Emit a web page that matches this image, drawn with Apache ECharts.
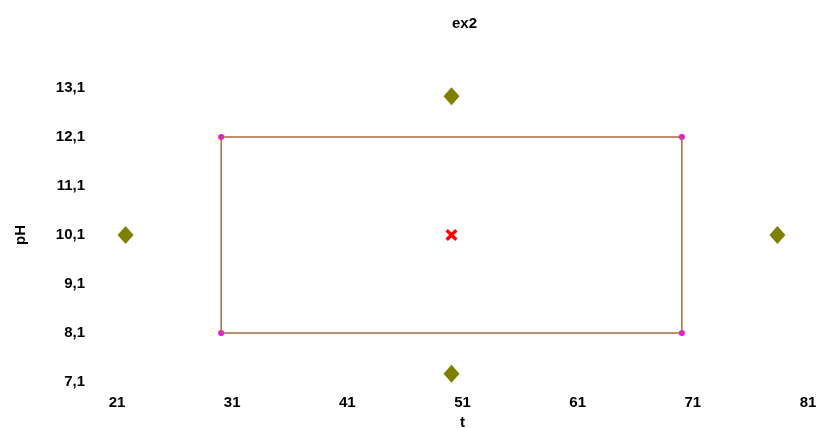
<!DOCTYPE html>
<html>
<head>
<meta charset="utf-8">
<script src="https://cdn.jsdelivr.net/npm/echarts@6/dist/echarts.min.js"></script>
<style>html,body{margin:0;padding:0;background:#fff}#c{width:821px;height:428px}</style>
</head>
<body>
<div id="c"></div>
<script>
const titleText = 'ex2';
const xName = 't';
const yName = 'pH';
const xTickLabels = [21, 31, 41, 51, 61, 71, 81];
const yTickLabels = [7.1, 8.1, 9.1, 10.1, 11.1, 12.1, 13.1];
// factorial (cube) points, traced as a closed rectangle
const cubeT = [31, 31, 71, 71, 31];
const cubePH = [8.1, 12.1, 12.1, 8.1, 8.1];
// axial (star) points
const starT = [22.7, 51, 79.3, 51];
const starPH = [10.1, 12.93, 10.1, 7.27];
// center point
const centerT = [51];
const centerPH = [10.1];

const zip = (a, b) => a.map((v, i) => [v, b[i]]);
const fmt = v => String(v).replace('.', ',');
const font = 'Liberation Sans, Arial, sans-serif';

const chart = echarts.init(document.getElementById('c'), null, {renderer: 'canvas'});
chart.setOption({
  animation: false,
  title: {
    text: titleText, left: 447, top: 11,
    textStyle: {fontFamily: font, fontWeight: 'bold', fontSize: 15, color: '#000'}
  },
  grid: {left: 106, right: 24, top: 88, bottom: 46, outerBoundsMode: 'none', containLabel: false},
  xAxis: {
    type: 'value', min: xTickLabels[0], max: xTickLabels[xTickLabels.length - 1], interval: 1,
    name: xName, nameLocation: 'middle', nameGap: 33,
    nameTextStyle: {fontFamily: font, fontWeight: 'bold', fontSize: 15, color: '#000', padding: [0, 0, 0, 22]},
    axisLine: {show: false}, axisTick: {show: false}, splitLine: {show: false},
    axisLabel: {
      fontFamily: font, fontWeight: 'bold', fontSize: 15, color: '#000', margin: 13,
      padding: [0, 0, 0, 22],
      formatter: v => xTickLabels.includes(Math.round(v)) ? fmt(Math.round(v)) : ''
    }
  },
  yAxis: {
    type: 'value', min: yTickLabels[0], max: yTickLabels[yTickLabels.length - 1], interval: 0.1,
    name: yName, nameLocation: 'middle', nameGap: 78,
    nameTextStyle: {fontFamily: font, fontWeight: 'bold', fontSize: 15, color: '#000'},
    axisLine: {show: false}, axisTick: {show: false}, splitLine: {show: false},
    axisLabel: {
      fontFamily: font, fontWeight: 'bold', fontSize: 15, color: '#000', margin: 21,
      padding: [0, 0, 6, 0],
      formatter: v => {
        const r = Math.round(v * 10) / 10;
        return yTickLabels.some(t => Math.abs(t - r) < 1e-6) ? fmt(r) : '';
      }
    }
  },
  series: [
    {
      type: 'line', data: zip(cubeT, cubePH), showSymbol: false, silent: true,
      lineStyle: {color: '#a8693f', width: 1.5}
    },
    {
      type: 'scatter', data: zip(cubeT.slice(0, 4), cubePH.slice(0, 4)),
      symbol: 'circle', symbolSize: 6, itemStyle: {color: '#ff00ff', opacity: 1}
    },
    {
      type: 'scatter', data: zip(starT, starPH),
      symbol: 'diamond', symbolSize: [16, 18], itemStyle: {color: '#808000', opacity: 1}
    },
    {
      type: 'scatter', data: zip(centerT, centerPH),
      symbol: 'path://M2,0 L5,3 L8,0 L10,2 L7,5 L10,8 L8,10 L5,7 L2,10 L0,8 L3,5 L0,2 Z',
      symbolSize: 12, itemStyle: {color: '#ff0000', opacity: 1}
    }
  ]
});
</script>
</body>
</html>
